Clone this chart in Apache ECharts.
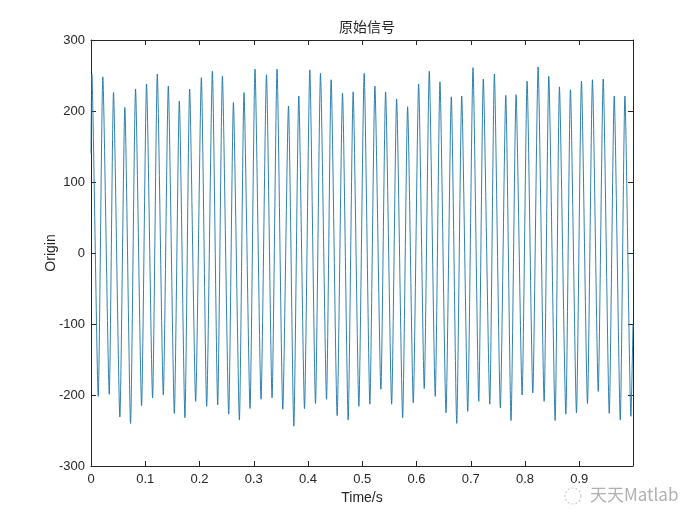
<!DOCTYPE html>
<html>
<head>
<meta charset="utf-8">
<script src="https://cdn.jsdelivr.net/npm/echarts@6/dist/echarts.min.js"></script>
<style>
html,body{margin:0;padding:0;background:#fff;}
#chart{width:700px;height:525px;}
</style>
</head>
<body>
<div id="chart"></div>
<script>
// Sample times (s): start, alternating peaks/troughs, end
var times = [
  0.0000,
  0.0015, 0.0133, 0.0218, 0.0336, 0.0415, 0.0532, 0.0624, 0.0729, 0.0821, 0.0932,
  0.1024, 0.1135, 0.1222, 0.1333, 0.1425, 0.1536, 0.1628, 0.1731, 0.1818, 0.1929,
  0.2034, 0.2132, 0.2237, 0.2335, 0.2422, 0.2538, 0.2625, 0.2735, 0.2820, 0.2931,
  0.3023, 0.3134, 0.3234, 0.3337, 0.3429, 0.3535, 0.3640, 0.3738, 0.3830, 0.3935,
  0.4033, 0.4138, 0.4230, 0.4341, 0.4426, 0.4537, 0.4636, 0.4740, 0.4832, 0.4937,
  0.5035, 0.5140, 0.5233, 0.5343, 0.5430, 0.5541, 0.5633, 0.5744, 0.5836, 0.5940,
  0.6039, 0.6142, 0.6235, 0.6345, 0.6432, 0.6543, 0.6641, 0.6741, 0.6833, 0.6944,
  0.7041, 0.7147, 0.7231, 0.7350, 0.7435, 0.7545, 0.7645, 0.7742, 0.7835, 0.7946,
  0.8038, 0.8143, 0.8241, 0.8352, 0.8438, 0.8555, 0.8634, 0.8752, 0.8837, 0.8948,
  0.9040, 0.9151, 0.9243, 0.9349, 0.9441, 0.9552, 0.9644, 0.9755, 0.9841, 0.9952,
  0.9990
];
var values = [
  140,
  252, -202, 248, -199, 226, -231, 205, -240, 231, -215,
  238, -204, 252, -200, 235, -226, 214, -232, 231, -209,
  247, -216, 256, -214, 249, -227, 212, -235, 226, -219,
  259, -206, 251, -204, 259, -220, 207, -244, 221, -219,
  258, -212, 253, -206, 244, -229, 225, -235, 227, -216,
  253, -213, 235, -192, 227, -213, 217, -232, 206, -211,
  238, -191, 256, -202, 241, -225, 220, -240, 221, -223,
  261, -209, 245, -213, 252, -218, 222, -236, 223, -200,
  242, -197, 262, -209, 249, -236, 234, -227, 230, -225,
  242, -212, 244, -195, 245, -226, 221, -235, 221, -230,
  -100
];
var xTicks = [0, 0.1, 0.2, 0.3, 0.4, 0.5, 0.6, 0.7, 0.8, 0.9];
var yTicks = [-300, -200, -100, 0, 100, 200, 300];

var data = times.map(function (t, i) { return [t, values[i]]; });

var axisCol = '#262626';
var labelFont = {color: '#262626', fontSize: 13, fontFamily: 'Liberation Sans, Arial, sans-serif'};

var chart = echarts.init(document.getElementById('chart'));
chart.setOption({
  backgroundColor: '#fff',
  animation: false,
  title: {
    text: '原始信号',
    left: 362, top: 15, textAlign: 'center',
    textStyle: {fontSize: 14, fontWeight: 'normal', color: '#262626', fontFamily: 'Noto Sans CJK SC'}
  },
  grid: {left: 91, right: 67, top: 40, bottom: 59, containLabel: false},
  xAxis: [{
    type: 'value', min: 0, max: 0.999, interval: 0.1,
    name: 'Time/s', nameLocation: 'middle', nameGap: 25,
    nameTextStyle: {color: '#262626', fontSize: 14, fontFamily: 'Liberation Sans, Arial, sans-serif'},
    axisLine: {show: true, onZero: false, lineStyle: {color: axisCol, width: 1}},
    axisTick: {show: true, inside: true, length: 5, lineStyle: {color: axisCol}},
    axisLabel: Object.assign({showMaxLabel: false, margin: 7, formatter: function (v) {
      var s = String(Math.round(v * 10) / 10);
      return xTicks.indexOf(Number(s)) >= 0 ? s : '';
    }}, labelFont),
    splitLine: {show: false}
  }, {
    type: 'value', min: 0, max: 0.999, interval: 0.1, position: 'top',
    axisLine: {show: true, onZero: false, lineStyle: {color: axisCol, width: 1}},
    axisTick: {show: true, inside: true, length: 5, lineStyle: {color: axisCol}},
    axisLabel: {show: false}, splitLine: {show: false}
  }],
  yAxis: [{
    type: 'value', min: yTicks[0], max: yTicks[yTicks.length - 1], interval: 100,
    name: 'Origin', nameLocation: 'middle', nameGap: 33, nameRotate: 90,
    nameMoveOverlap: false,
    nameTextStyle: {color: '#262626', fontSize: 14, fontFamily: 'Liberation Sans, Arial, sans-serif'},
    axisLine: {show: true, onZero: false, lineStyle: {color: axisCol, width: 1}},
    axisTick: {show: true, inside: true, length: 5, lineStyle: {color: axisCol}},
    axisLabel: Object.assign({margin: 6}, labelFont),
    splitLine: {show: false}
  }, {
    type: 'value', min: yTicks[0], max: yTicks[yTicks.length - 1], interval: 100, position: 'right',
    axisLine: {show: true, onZero: false, lineStyle: {color: axisCol, width: 1}},
    axisTick: {show: true, inside: true, length: 5, lineStyle: {color: axisCol}},
    axisLabel: {show: false}, splitLine: {show: false}
  }],
  graphic: [{
    type: 'text', left: 590, top: 486,
    style: {text: '天天Matlab', fill: '#b0b0b0', font: '17px "Noto Sans CJK SC"'}
  }, {
    type: 'circle', shape: {cx: 573, cy: 496, r: 8},
    style: {fill: 'none', stroke: '#c8c8c8', lineWidth: 1.2, lineDash: [2, 2]}
  }],
  series: [{
    type: 'line', data: data, xAxisIndex: 0, yAxisIndex: 0,
    showSymbol: false, smooth: 0.2,
    lineStyle: {color: '#1a74a6', width: 0.9},
    clip: true
  }]
});
</script>
</body>
</html>
